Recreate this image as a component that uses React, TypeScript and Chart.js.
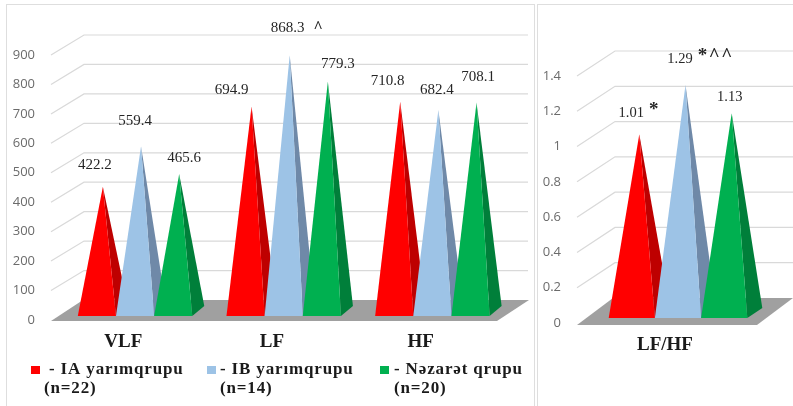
import React, { useEffect, useRef } from "react";
import { Chart, registerables } from "chart.js";

Chart.register(...registerables);

// ---------- data ----------
const mainCategories = ["VLF", "LF", "HF"];
const ratioCategories = ["LF/HF"];
const seriesNames = ["- IA yarımqrupu", "- IB yarımqrupu", "- Nəzarət qrupu"];
const seriesSizes = ["(n=22)", "(n=14)", "(n=20)"];
const mainIA = [422.2, 694.9, 710.8];
const mainIB = [559.4, 868.3, 682.4];
const mainControl = [465.6, 779.3, 708.1];
const ratioIA = [1.01];
const ratioIB = [1.29];
const ratioControl = [1.13];
const mainMarks = [["", "", ""], ["", "^", ""], ["", "", ""]];
const ratioMarks = [["*"], ["*^^"], [""]];

// ---------- styles ----------
const frontColors = ["#FF0000", "#9DC3E6", "#00B050"];
const sideColors = ["#BE0000", "#6F89A8", "#007F3A"];
const SERIF = '"Liberation Serif", serif';

type Layout = {
  area: [number, number, number, number];
  floorDx: number; floorDy: number; floorDrop: number;
  gridDx: number; gridDy: number; gridRight: number;
  sideDx: number; sideDy: number; baseLift: number; apexLift: number;
  shift: number; labelSize: number; markSize: number; markSpacing: string; markGap: number; markLift: number;
  labelOffsets: number[][][];
};

const mainLayout: Layout = {
  area: [51, 55, 497, 320],
  floorDx: 32, floorDy: -20, floorDrop: 1,
  gridDx: 33, gridDy: -20, gridRight: 528,
  sideDx: 12, sideDy: -10, baseLift: 4, apexLift: 9,
  shift: 9.7, labelSize: 15, markSize: 16, markSpacing: "0px", markGap: 9, markLift: 0,
  labelOffsets: [
    [[-8, -22], [-20, -16], [-12.5, -21]],
    [[-6, -25], [-2, -27], [-1.5, -20]],
    [[5, -16], [10, -17], [1.5, -25.5]],
  ],
};

const ratioLayout: Layout = {
  area: [577, 76, 757, 323],
  floorDx: 36, floorDy: -24, floorDrop: 2,
  gridDx: 38, gridDy: -25, gridRight: 793,
  sideDx: 15, sideDy: -10, baseLift: 5, apexLift: 10.5,
  shift: 11, labelSize: 14.5, markSize: 19, markSpacing: "1.5px", markGap: 5, markLift: 3,
  labelOffsets: [[[-8, -21]], [[-5.5, -26]], [[-2, -16]]],
};

function makePyramidPlugin(layout: Layout, marks: string[][]) {
  return {
    id: "pyramids",
    beforeDatasetsDraw(chart: any) {
      const { ctx, scales } = chart;
      const y = scales.y;
      const x0 = layout.area[0];
      const x1 = layout.area[2];
      ctx.save();
      // walls: one bent gridline per tick of the value axis
      ctx.strokeStyle = "#D9D9D9";
      ctx.lineWidth = 1.2;
      y.ticks.forEach((t: any) => {
        if (t.value === 0) return;
        const py = y.getPixelForValue(t.value);
        ctx.beginPath();
        ctx.moveTo(x0, py);
        ctx.lineTo(x0 + layout.gridDx, py + layout.gridDy);
        ctx.lineTo(layout.gridRight, py + layout.gridDy);
        ctx.stroke();
      });
      // floor
      const fy = y.getPixelForValue(0) + layout.floorDrop;
      const backY = y.getPixelForValue(0) + layout.gridDy;
      ctx.fillStyle = "#A0A0A0";
      ctx.beginPath();
      ctx.moveTo(x0, fy);
      ctx.lineTo(x0 + layout.floorDx, backY);
      ctx.lineTo(x1 + layout.floorDx, backY);
      ctx.lineTo(x1, fy);
      ctx.closePath();
      ctx.fill();
      // pyramids, first series first so that later ones overlap it
      chart.data.datasets.forEach((ds: any, di: number) => {
        const meta = chart.getDatasetMeta(di);
        meta.data.forEach((el: any) => {
          const half = el.width / 2;
          const cx = el.x + layout.shift;
          const base = el.base - layout.baseLift;
          const ax = cx + layout.sideDx / 2;
          const ay = el.y - layout.apexLift;
          ctx.fillStyle = sideColors[di];
          ctx.beginPath();
          ctx.moveTo(cx + half, base);
          ctx.lineTo(cx + half + layout.sideDx, base + layout.sideDy);
          ctx.lineTo(ax, ay);
          ctx.closePath();
          ctx.fill();
          ctx.fillStyle = ds.backgroundColor;
          ctx.beginPath();
          ctx.moveTo(cx - half, base);
          ctx.lineTo(cx + half, base);
          ctx.lineTo(ax, ay);
          ctx.closePath();
          ctx.fill();
        });
      });
      // value labels
      ctx.textBaseline = "middle";
      chart.data.datasets.forEach((ds: any, di: number) => {
        const meta = chart.getDatasetMeta(di);
        meta.data.forEach((el: any, i: number) => {
          const off = layout.labelOffsets[di][i];
          const lx = el.x + layout.shift + layout.sideDx / 2 + off[0];
          const ly = el.y - layout.apexLift + off[1];
          const text = String(ds.data[i]);
          ctx.font = `${layout.labelSize}px ${SERIF}`;
          ctx.fillStyle = "#262626";
          ctx.textAlign = "center";
          ctx.fillText(text, lx, ly);
          const mark = marks[di][i];
          if (mark) {
            const w = ctx.measureText(text).width;
            ctx.textAlign = "left";
            ctx.font = `bold ${layout.markSize}px ${SERIF}`;
            (ctx as any).letterSpacing = layout.markSpacing;
            ctx.fillText(mark, lx + w / 2 + layout.markGap, ly - layout.markLift);
            (ctx as any).letterSpacing = "0px";
          }
        });
      });
      ctx.restore();
      return false;
    },
  };
}

const legendPlugin = {
  id: "groupLegend",
  afterDraw(chart: any) {
    const { ctx } = chart;
    const swatchX = [31, 207, 380];
    const textX = [49, 220, 394];
    const sizeX = [44, 220, 394];
    ctx.save();
    ctx.textBaseline = "middle";
    ctx.textAlign = "left";
    ctx.font = `bold 17px ${SERIF}`;
    (ctx as any).letterSpacing = "0.85px";
    seriesNames.forEach((name, i) => {
      ctx.fillStyle = frontColors[i];
      ctx.fillRect(swatchX[i], 366, 9, 8);
      ctx.fillStyle = "#1A1A1A";
      ctx.fillText(name, textX[i], 370);
      ctx.fillText(seriesSizes[i], sizeX[i], 389);
    });
    ctx.restore();
  },
};

function buildChart(
  canvas: HTMLCanvasElement,
  categories: string[],
  series: number[][],
  max: number,
  step: number,
  layout: Layout,
  marks: string[][],
  extra: any[],
) {
  const [l, t, r, b] = layout.area;
  return new Chart(canvas, {
    type: "bar",
    data: {
      labels: categories,
      datasets: series.map((data, i) => ({
        label: seriesNames[i],
        data,
        backgroundColor: frontColors[i],
        categoryPercentage: 0.77,
        barPercentage: 1,
      })),
    },
    options: {
      responsive: false,
      animation: false,
      layout: { padding: { left: 0, top: t, right: 793 - r, bottom: 406 - b - 40 } },
      plugins: { legend: { display: false }, tooltip: { enabled: false }, title: { display: false } },
      scales: {
        x: {
          afterFit: (s: any) => { s.height = 40; },
          border: { display: false },
          grid: { display: false, drawTicks: false },
          ticks: {
            padding: 11,
            labelOffset: -2,
            maxRotation: 0,
            color: "#1A1A1A",
            font: { family: "Liberation Serif", size: 19, weight: "bold" },
          },
        },
        y: {
          min: 0,
          max,
          afterFit: (s: any) => { s.width = l; },
          border: { display: false },
          grid: { display: false, drawTicks: false },
          ticks: {
            stepSize: step,
            padding: 16,
            color: "#6B6B6B",
            font: { family: "Open Sans", size: 13 },
            callback: (v: any) => String(Number(Number(v).toFixed(1))),
          },
        },
      },
    } as any,
    plugins: [makePyramidPlugin(layout, marks), ...extra],
  } as any);
}

export default function App() {
  const mainRef = useRef<HTMLCanvasElement>(null);
  const ratioRef = useRef<HTMLCanvasElement>(null);
  useEffect(() => {
    const a = buildChart(mainRef.current!, mainCategories, [mainIA, mainIB, mainControl], 900, 100, mainLayout, mainMarks, [legendPlugin]);
    const b = buildChart(ratioRef.current!, ratioCategories, [ratioIA, ratioIB, ratioControl], 1.4, 0.2, ratioLayout, ratioMarks, []);
    return () => { a.destroy(); b.destroy(); };
  }, []);
  const layer: React.CSSProperties = { position: "absolute", left: 0, top: 0, filter: "blur(0.4px)" };
  const frame: React.CSSProperties = { position: "absolute", boxSizing: "border-box", border: "1.5px solid #DEDEDE", background: "#fff" };
  return (
    <div style={{ position: "fixed", left: 0, top: 0, width: 793, height: 406, background: "#fff", overflow: "hidden" }}>
      <div style={{ ...frame, left: 6, top: 4, width: 529, height: 420 }} />
      <div style={{ ...frame, left: 537, top: 4, width: 280, height: 420 }} />
      <canvas ref={mainRef} width={793} height={406} style={layer} />
      <canvas ref={ratioRef} width={793} height={406} style={layer} />
    </div>
  );
}
